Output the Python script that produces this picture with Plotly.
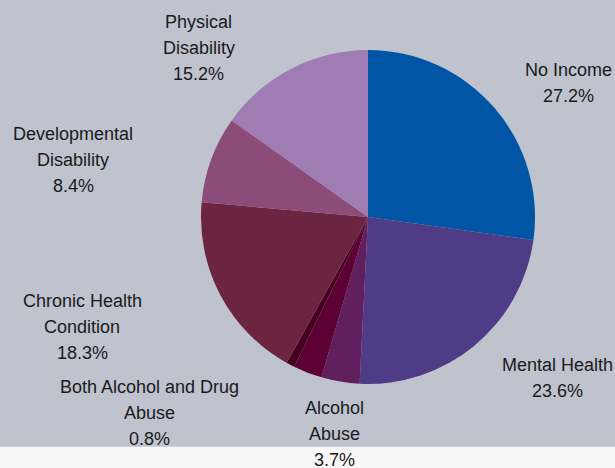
import plotly.graph_objects as go

categories = ["No Income", "Mental Health", "Alcohol Abuse", "Drug Abuse",
              "Both Alcohol and Drug Abuse", "Chronic Health Condition",
              "Developmental Disability", "Physical Disability"]
label_lines = [["No Income"], ["Mental Health"], ["Alcohol", "Abuse"], [],
               ["Both Alcohol and Drug", "Abuse"], ["Chronic Health", "Condition"],
               ["Developmental", "Disability"], ["Physical", "Disability"]]
values = [27.2, 23.6, 3.7, 2.8, 0.8, 18.3, 8.4, 15.2]
colors = ["#0055A5", "#503C86", "#611F5E", "#5C0035", "#46001F",
          "#6B2540", "#8B4C79", "#A07CB4"]

# ---- layout (pixels) ----
W, H = 615, 468
cx, cy, R = 368, 217, 167          # pie centre / radius
# label anchor: centre x and middle of first line (pixels from top-left)
label_anchor = [(568, 70), (557, 365), (334, 408), None,
                (149, 387), (82, 301), (73, 134), (199, 22)]
line_step = 26
font = dict(family="Liberation Sans, Arial, sans-serif", size=18, color="#1a1a1a")

fig = go.Figure()
fig.add_trace(go.Pie(
    labels=categories, values=values, textinfo="none",
    sort=False, direction="clockwise", rotation=0, automargin=False,
    marker=dict(colors=colors, line=dict(width=0)),
    domain=dict(x=[(cx - R) / W, (cx + R) / W],
                y=[(H - cy - R) / H, (H - cy + R) / H]),
    showlegend=False, hoverinfo="label+percent",
))

for lines, v, anc in zip(label_lines, values, label_anchor):
    if anc is None:
        continue
    ax, ay = anc
    for i, t in enumerate(lines + [f"{v:.1f}%"]):
        fig.add_annotation(
            x=ax / W, y=1 - (ay + i * line_step) / H, xref="paper", yref="paper",
            text=t, showarrow=False, xanchor="center", yanchor="middle", font=font,
        )

fig.add_shape(type="rect", xref="paper", yref="paper", x0=0, x1=1, y0=21.3 / H, y1=1,
              fillcolor="#BEC3CE", line=dict(width=0), layer="below")

fig.update_layout(
    width=W, height=H,
    margin=dict(l=0, r=0, t=0, b=0, autoexpand=False),
    paper_bgcolor="#F8F8F8",
)

fig.write_html("out.html", config={"displayModeBar": False},
               post_script="document.body.style.margin='0';document.body.style.overflow='hidden';")
